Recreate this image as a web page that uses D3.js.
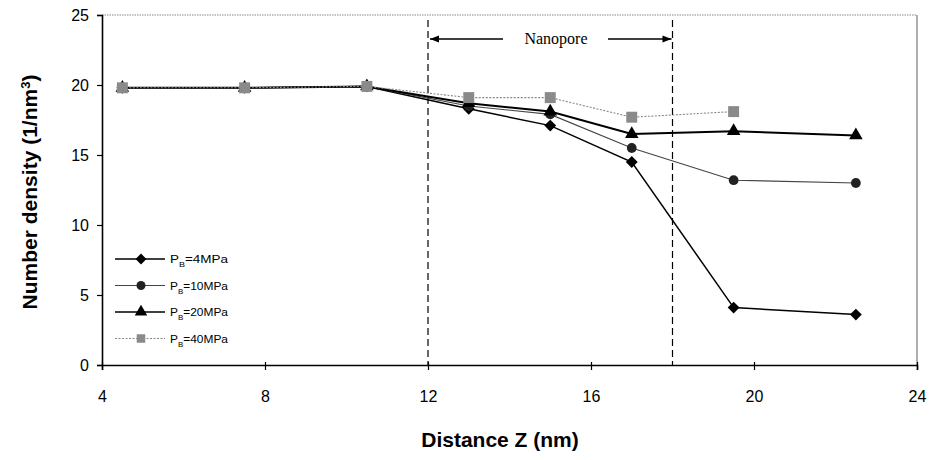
<!DOCTYPE html>
<html><head><meta charset="utf-8">
<script src="https://cdn.jsdelivr.net/npm/d3@7"></script>
<style>body{margin:0;background:#fff}svg{display:block}</style>
</head><body>
<svg id="c" width="932" height="460"></svg>
<script>
const xValues = [4.5, 7.5, 10.5, 13, 15, 17, 19.5, 22.5];
const p4  = [19.8, 19.8, 19.9, 18.3, 17.1, 14.5, 4.1, 3.6];
const p10 = [19.8, 19.8, 19.9, 18.5, 17.9, 15.5, 13.2, 13.0];
const p20 = [19.8, 19.8, 19.9, 18.7, 18.1, 16.5, 16.7, 16.4];
const p40 = [19.8, 19.8, 19.9, 19.1, 19.1, 17.7, 18.1, null];
const seriesNames = ["=4MPa", "=10MPa", "=20MPa", "=40MPa"];
const xTicks = [4, 8, 12, 16, 20, 24];
const yTicks = [0, 5, 10, 15, 20, 25];
const poreBounds = [12, 18];

const svg = d3.select("#c");
const x = d3.scaleLinear().domain([4, 24]).range([102, 917]);
const y = d3.scaleLinear().domain([0, 25]).range([365, 15]);

// frame top/right
svg.append("line").attr("x1", x(4)).attr("x2", x(24)).attr("y1", y(25)).attr("y2", y(25))
  .attr("stroke", "#888").attr("stroke-width", 1).attr("stroke-dasharray", "1.5,1");
svg.append("line").attr("x1", x(24)).attr("x2", x(24)).attr("y1", y(25)).attr("y2", y(0))
  .attr("stroke", "#777").attr("stroke-width", 1.2);

// axes
const yAxis = d3.axisLeft(y).tickValues(yTicks).tickSize(5).tickPadding(8).tickFormat(d3.format("d"));
const gy = svg.append("g").attr("transform", `translate(${x(4)},0)`).call(yAxis);
const xAxis = d3.axisBottom(x).tickValues(xTicks).tickSize(5).tickPadding(21).tickFormat(d3.format("d"));
const gx = svg.append("g").attr("transform", `translate(0,${y(0)})`).call(xAxis);
[gx, gy].forEach(g => {
  g.select(".domain").attr("stroke", "#000").attr("stroke-width", 1.6);
  g.selectAll(".tick line").attr("stroke", "#000").attr("stroke-width", 1.2);
  g.selectAll("text").attr("font-family", "Liberation Sans, Arial, sans-serif").attr("font-size", 16).attr("fill", "#000");
});
gx.selectAll(".tick line").attr("y1", -3);

// axis titles
svg.append("text").attr("x", 500).attr("y", 447).attr("text-anchor", "middle")
  .attr("font-family", "Liberation Sans, Arial, sans-serif").attr("font-weight", "bold").attr("font-size", 21)
  .text("Distance Z (nm)");
const yt = svg.append("text").attr("transform", "translate(37,192) rotate(-90)").attr("text-anchor", "middle")
  .attr("font-family", "Liberation Sans, Arial, sans-serif").attr("font-weight", "bold").attr("font-size", 21);
yt.append("tspan").text("Number density (1/nm");
yt.append("tspan").attr("baseline-shift", "super").attr("font-size", 13).text("3");
yt.append("tspan").text(")");

// nanopore dashed lines
poreBounds.forEach(b => {
  svg.append("line").attr("x1", x(b)).attr("x2", x(b)).attr("y1", 20).attr("y2", y(0))
    .attr("stroke", "#000").attr("stroke-width", 1.2).attr("stroke-dasharray", "7,4");
});
const defs = svg.append("defs");
defs.append("marker").attr("id", "ah").attr("viewBox", "0 0 10 10").attr("refX", 10).attr("refY", 5)
  .attr("markerWidth", 10).attr("markerHeight", 9).attr("markerUnits", "userSpaceOnUse").attr("orient", "auto")
  .append("path").attr("d", "M0,1 L10,5 L0,9 Z").attr("fill", "#000");
const ay = 39;
svg.append("line").attr("x1", 503).attr("x2", x(poreBounds[0]) + 2).attr("y1", ay).attr("y2", ay)
  .attr("stroke", "#000").attr("stroke-width", 1.3).attr("marker-end", "url(#ah)");
svg.append("line").attr("x1", 608).attr("x2", x(poreBounds[1]) - 1).attr("y1", ay).attr("y2", ay)
  .attr("stroke", "#000").attr("stroke-width", 1.3).attr("marker-end", "url(#ah)");
svg.append("text").attr("x", 556).attr("y", ay + 5).attr("text-anchor", "middle")
  .attr("font-family", "Liberation Serif, Times New Roman, serif").attr("font-size", 16).text("Nanopore");

// series
const styles = [
  {vals: p4,  stroke: "#000", sw: 1.5, dash: null, sym: d3.symbolSquare, rot: 45, size: 70, fill: "#000"},
  {vals: p10, stroke: "#444", sw: 1.1, dash: null, sym: d3.symbolCircle, rot: 0, size: 75, fill: "#222"},
  {vals: p20, stroke: "#000", sw: 2.0, dash: null, sym: d3.symbolTriangle, rot: 0, size: 80, fill: "#000"},
  {vals: p40, stroke: "#888", sw: 1.1, dash: "2,1.5", sym: d3.symbolSquare, rot: 0, size: 120, fill: "#8a8a8a"}
];
const line = d3.line().defined(d => d[1] != null).x(d => x(d[0])).y(d => y(d[1]));
styles.forEach(s => {
  const pts = xValues.map((v, i) => [v, s.vals[i]]);
  svg.append("path").datum(pts).attr("d", line).attr("fill", "none")
    .attr("stroke", s.stroke).attr("stroke-width", s.sw).attr("stroke-dasharray", s.dash);
  svg.append("g").selectAll("path").data(pts.filter(d => d[1] != null)).join("path")
    .attr("transform", d => `translate(${x(d[0])},${y(d[1])}) rotate(${s.rot})`)
    .attr("d", d3.symbol().type(s.sym).size(s.size)).attr("fill", s.fill);
});

// legend
const lg = svg.append("g");
styles.forEach((s, i) => {
  const ly = 259 + i * 26.5;
  lg.append("line").attr("x1", 115).attr("x2", 165).attr("y1", ly).attr("y2", ly)
    .attr("stroke", s.stroke).attr("stroke-width", Math.min(s.sw, 1.4)).attr("stroke-dasharray", s.dash);
  lg.append("path").attr("transform", `translate(141,${ly}) rotate(${s.rot})`).attr("d", d3.symbol().type(s.sym).size(Math.min(s.size, 85) * 0.85)).attr("fill", s.fill);
  const t = lg.append("text").attr("x", 170).attr("y", ly + 4)
    .attr("font-family", "Liberation Sans, Arial, sans-serif").attr("font-size", 10.5).attr("textLength", 58).attr("lengthAdjust", "spacingAndGlyphs");
  t.append("tspan").text("P");
  t.append("tspan").attr("baseline-shift", "sub").attr("font-size", 7).text("B");
  t.append("tspan").text(seriesNames[i]);
});
</script>
</body></html>
